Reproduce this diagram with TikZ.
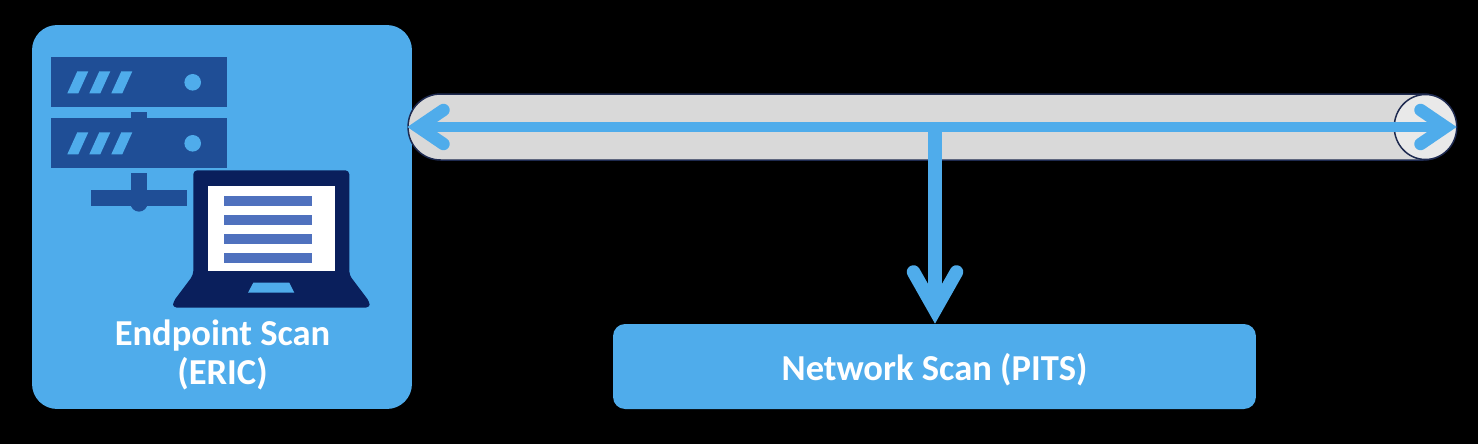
\documentclass[tikz,border=0pt]{standalone}
\usepackage{fontspec}
\setmainfont{Carlito}
\usetikzlibrary{arrows.meta,positioning,calc,shapes.geometric}
\definecolor{panelblue}{HTML}{4FACEB}
\definecolor{serverblue}{HTML}{1F4E96}
\definecolor{laptopnavy}{HTML}{0A1F5C}
\definecolor{listblue}{HTML}{4F71BE}
\definecolor{tubegray}{HTML}{D9D9D9}
\definecolor{capgray}{HTML}{E9E9E9}
\definecolor{tubeline}{HTML}{1E2A50}

\begin{document}
\begin{tikzpicture}[
    x=0.02cm, y=-0.02cm,
    panel/.style={fill=panelblue, draw=none, inner sep=0pt},
    caption/.style={text=white, font=\fontsize{20.8}{22.2}\selectfont\bfseries, align=center},
    link/.style={line width=0.2cm, panelblue,
        {Straight Barb[length=0.5cm, width=0.68cm, line width=0.25cm, line cap=round]}-{Straight Barb[length=0.5cm, width=0.68cm, line width=0.25cm, line cap=round]}},
    drop/.style={line width=0.28cm, panelblue,
        -{Straight Barb[length=0.76cm, width=0.86cm, line width=0.27cm, line cap=round]}},
    serverbit/.style={fill=serverblue},
    slot/.style={fill=panelblue}
]
    % Background
    \fill[black] (0,0) rectangle (1478,444);

    % Main boxes
    \node[panel, rounded corners=0.5cm, minimum width=7.6cm, minimum height=7.68cm] (endpoint) at (222,217) {};
    \node[panel, rounded corners=0.24cm, minimum width=12.86cm, minimum height=1.7cm] (network) at (934.5,366.5) {};
    \node[caption] (endpointtext) at (222.5,355) {Endpoint Scan\\(ERIC)};
    \node[caption] (networktext) at (934.5,370) {Network Scan (PITS)};

    % Server racks
    \foreach \rowy in {0,61} {
        \fill[serverbit] (51,57+\rowy) rectangle (227,107+\rowy);
        \foreach \slotx in {0,22,44}
            \fill[slot] (67.3+\slotx,93.3+\rowy) -- (78.3+\slotx,93.3+\rowy) -- (88.3+\slotx,71.3+\rowy) -- (77.3+\slotx,71.3+\rowy) -- cycle;
        \fill[slot] (192.7,82.3+\rowy) circle (8.3*0.02cm);
    }
    \fill[serverbit] (131,112) rectangle (147,118);
    \fill[serverbit] (131,172.7) rectangle (147,192);
    \fill[serverbit] (90.7,190) rectangle (187,206.3);
    \fill[serverbit] (139,203) circle (8.6*0.02cm);

    % Laptop
    \fill[laptopnavy, rounded corners=0.08cm] (193.3,275) -- (193.3,170.3) -- (349.3,170.3) -- (349.3,275) -- (369.7,302) -- (369.7,307.7) -- (173,307.7) -- (173,302) -- cycle;
    \fill[white] (207.7,186) rectangle (334.7,270.7);
    \foreach \liney in {196,214.7,234.3,253}
        \fill[listblue] (224,\liney) rectangle (312.3,\liney+10);
    \fill[panelblue] (253.3,282.7) -- (289.3,282.7) -- (294.3,292.7) -- (248,292.7) -- cycle;

    % Tube with end cap
    \node[fill=tubegray, draw=tubeline, line width=0.03cm, rounded corners=0.65cm, minimum width=20.96cm, minimum height=1.32cm, inner sep=0pt] (tube) at (932,127) {};
    \node[fill=capgray, draw=tubeline, line width=0.03cm, ellipse, minimum width=1.25cm, minimum height=1.3cm, inner sep=0pt] (cap) at (1425.5,127) {};

    % Connectors
    \coordinate (branch) at (935,127);
    \draw[drop] (branch) -- (branch |- network.north);
    \draw[link] (tube.west) -- (tube.east);
\end{tikzpicture}
\end{document}
